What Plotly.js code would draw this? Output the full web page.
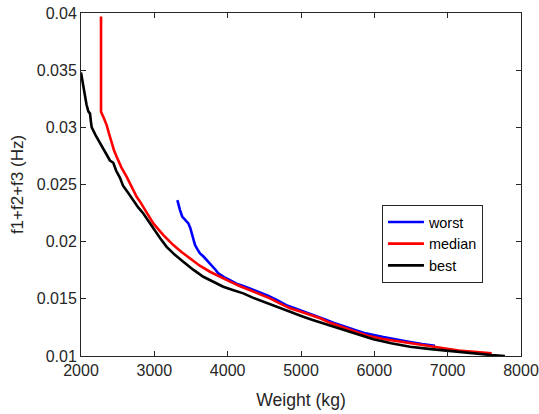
<!DOCTYPE html>
<html>
<head>
<meta charset="utf-8">
<script src="https://cdn.plot.ly/plotly-3.0.1.min.js"></script>
<style>html,body{margin:0;padding:0;background:#fff;}#chart{width:539px;height:414px;}</style>
</head>
<body>
<div id="chart"></div>
<script>
const worstX = [3314,3330,3350,3380,3418,3464,3490,3509,3530,3555,3590,3623,3670,3714,3760,3805,3840,3873,3950,4032,4120,4213,4330,4441,4550,4668,4800,4941,5080,5214,5330,5441,5650,5880,6123,6300,6486,6650,6827];
const worstY = [0.02363,0.0232,0.02276,0.0222,0.02188,0.0216,0.0212,0.02072,0.0202,0.0197,0.0193,0.01897,0.0187,0.01839,0.0181,0.0178,0.0175,0.01722,0.0169,0.01664,0.01632,0.01612,0.01582,0.01552,0.01528,0.0149,0.01445,0.01412,0.0138,0.01352,0.0132,0.01292,0.01245,0.01198,0.01165,0.01142,0.01122,0.01105,0.0109];

const medianX = [2273,2273,2305,2350,2380,2418,2450,2486,2550,2623,2690,2759,2805,2873,2986,3120,3259,3370,3486,3620,3759,3900,4032,4170,4305,4440,4577,4710,4850,4990,5123,5260,5395,5530,5650,5895,6120,6350,6620,6895,7150,7400,7600];
const medianY = [0.0397,0.03135,0.0309,0.0302,0.0295,0.02858,0.0280,0.02742,0.0265,0.02567,0.0248,0.02392,0.0235,0.02276,0.0216,0.0206,0.0197,0.0191,0.01854,0.0179,0.01737,0.0169,0.0165,0.0161,0.01577,0.0154,0.01504,0.0146,0.01417,0.0139,0.01358,0.0133,0.0129,0.0126,0.01235,0.0118,0.01148,0.01125,0.01095,0.01067,0.01048,0.01035,0.01024];

const bestX = [2000,2020,2040,2055,2075,2100,2123,2135,2146,2200,2259,2330,2395,2440,2480,2530,2573,2640,2713,2780,2850,2920,2986,3080,3168,3280,3395,3530,3668,3800,3940,4080,4213,4350,4486,4620,4759,4900,5031,5170,5304,5470,5645,5810,5986,6230,6486,6740,6986,7200,7395,7600,7780];
const bestY = [0.0348,0.0340,0.0330,0.0327,0.0320,0.0314,0.0312,0.0305,0.0300,0.0293,0.0286,0.0278,0.0271,0.0269,0.0262,0.0256,0.0249,0.0243,0.0236,0.0230,0.02247,0.0218,0.02116,0.0203,0.01955,0.01885,0.01824,0.01755,0.01693,0.01648,0.01606,0.01575,0.01548,0.01508,0.01475,0.01437,0.01402,0.01372,0.01343,0.01313,0.01286,0.01248,0.01212,0.01178,0.01146,0.01112,0.01081,0.01062,0.01046,0.0103,0.01017,0.01008,0.0100];

const xTickVals = [2000,3000,4000,5000,6000,7000,8000];
const xTickText = ['2000','3000','4000','5000','6000','7000','8000'];
const yTickVals = [0.01,0.015,0.02,0.025,0.03,0.035,0.04];
const yTickText = ['0.01','0.015','0.02','0.025','0.03','0.035','0.04'];

const seriesNames = ['worst','median','best'];
const seriesColors = ['#0000ff','#ff0000','#000000'];

const xs = [worstX, medianX, bestX];
const ys = [worstY, medianY, bestY];
const traces = seriesNames.map((n,i)=>({
  x: xs[i], y: ys[i], name: n, type:'scatter', mode:'lines',
  line:{color:seriesColors[i], width:2.6, shape:'linear'}
}));

const axisCommon = {
  showline:true, mirror:'ticks', ticks:'inside', ticklen:5, tickwidth:1,
  linecolor:'#262626', tickcolor:'#262626', linewidth:1,
  showgrid:false, zeroline:false,
  tickfont:{family:'Liberation Sans, Arial, sans-serif', size:16, color:'#262626'}
};

const layout = {
  width:539, height:414,
  margin:{l:81, r:18, t:13, b:58},
  paper_bgcolor:'#fff', plot_bgcolor:'#fff',
  showlegend:true,
  font:{family:'Liberation Sans, Arial, sans-serif', color:'#262626'},
  xaxis: Object.assign({}, axisCommon, {
    range:[2000,8000], tickvals:xTickVals, ticktext:xTickText,
    title:{text:'Weight (kg)', font:{size:17.6, color:'#262626'}, standoff:15}
  }),
  yaxis: Object.assign({}, axisCommon, {
    range:[0.01,0.04], tickvals:yTickVals, ticktext:yTickText,
    title:{text:'f1+f2+f3 (Hz)', font:{size:17, color:'#262626'}, standoff:8}
  }),
  legend:{
    x:0.684, y:0.44, xanchor:'left', yanchor:'top',
    bgcolor:'#fff', bordercolor:'#262626', borderwidth:1,
    font:{size:14.4, color:'#000'},
    itemwidth:36, tracegroupgap:0
  }
};

Plotly.newPlot('chart', traces, layout, {displayModeBar:false, staticPlot:true});
</script>
</body>
</html>
